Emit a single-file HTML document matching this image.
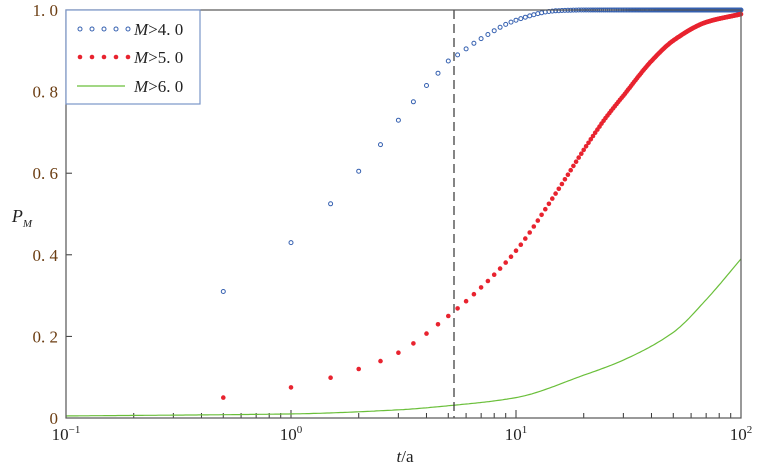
<!DOCTYPE html><html><head><style>body{margin:0;background:#fff}svg text{font-family:"Liberation Serif",serif}</style></head><body>
<svg id="s" width="760" height="465" xmlns="http://www.w3.org/2000/svg"></svg>
<script>
const s=document.getElementById('s');let h='';
const X=t=>66+225*(Math.log10(t)+1), Y=p=>418-408*p;
function itp(d,t){const xs=d.map(p=>Math.log10(p[0])),ys=d.map(p=>p[1]),n=d.length,l=Math.log10(t);
 const del=[];for(let i=0;i<n-1;i++)del.push((ys[i+1]-ys[i])/(xs[i+1]-xs[i]));
 const m=[del[0]];for(let i=1;i<n-1;i++){m.push(del[i-1]*del[i]<=0?0:2/(1/del[i-1]+1/del[i]));}m.push(del[n-2]);
 for(let i=0;i<n-1;i++){if(l<=xs[i+1]||i==n-2){const hh=xs[i+1]-xs[i],u=(l-xs[i])/hh;
  const h00=2*u*u*u-3*u*u+1,h10=u*u*u-2*u*u+u,h01=-2*u*u*u+3*u*u,h11=u*u*u-u*u;
  return h00*ys[i]+h10*hh*m[i]+h01*ys[i+1]+h11*hh*m[i+1];}}}
const B=[[0.5,.31],[1,.43],[1.5,.525],[2,.605],[2.5,.67],[3,.73],[3.5,.775],[4,.815],[4.5,.845],[5,.875],[5.5,.89],[7,.93],[10,.975],[15,.998],[20,1],[100,1]];
const R=[[0.5,.05],[1,.075],[2,.12],[3,.16],[5,.25],[7,.32],[10,.41],[15,.55],[20,.657],[25,.735],[30,.79],[40,.875],[50,.925],[70,.97],[100,.99]];
const G=[[0.1,.005],[1,.01],[3,.02],[5,.03],[10,.05],[20,.105],[30,.142],[50,.21],[70,.29],[100,.39]];
const tc='#6b3d12';
for(let d=-1;d<2;d++)for(let k=2;k<10;k++){const x=X(k*Math.pow(10,d));h+=`<line x1="${x}" y1="418" x2="${x}" y2="413" stroke="#333"/>`;}
for(let d=0;d<2;d++){const x=X(Math.pow(10,d));h+=`<line x1="${x}" y1="418" x2="${x}" y2="410" stroke="#333"/>`;}
[0,.2,.4,.6,.8,1].forEach((p,i)=>{h+=`<line x1="66" y1="${Y(p)}" x2="72" y2="${Y(p)}" stroke="#333"/><text x="58" y="${Y(p)+6}" font-size="17" fill="${tc}" text-anchor="end">${['0','0. 2','0. 4','0. 6','0. 8','1. 0'][i]}</text>`;});
[['10','−1',66],['10','0',291],['10','1',516],['10','2',741]].forEach(a=>{h+=`<text x="${a[2]}" y="440" font-size="17" fill="#222" text-anchor="middle">${a[0]}<tspan dy="-7" font-size="11">${a[1]}</tspan></text>`;});
h+=`<text x="405" y="462" font-size="17" fill="#222" text-anchor="middle"><tspan font-style="italic">t</tspan>/a</text>`;
h+=`<text x="22" y="222" font-size="18" fill="#222" font-style="italic" text-anchor="middle">P<tspan dy="5" font-size="11">M</tspan></text>`;
let pts=[];for(let i=0;i<=300;i++){const t=Math.pow(10,-1+3*i/300);pts.push(X(t).toFixed(1)+','+Y(itp(G,t)).toFixed(1));}
h+=`<polyline points="${pts.join(' ')}" fill="none" stroke="#6abf3a" stroke-width="1.2"/>`;
for(let t=0.5;t<=100.01;t+=0.5){h+=`<circle cx="${X(t).toFixed(1)}" cy="${Y(Math.min(1,itp(B,t))).toFixed(1)}" r="2" fill="none" stroke="#3560b0" stroke-width="1"/>`;}
for(let t=0.5;t<=100.01;t+=0.5){h+=`<circle cx="${X(t).toFixed(1)}" cy="${Y(itp(R,t)).toFixed(1)}" r="2.3" fill="#e8232f"/>`;}
h+=`<line x1="454" y1="10" x2="454" y2="418" stroke="#333" stroke-dasharray="9,5" stroke-width="1.2"/>`;
h+=`<rect x="66" y="10" width="675" height="408" fill="none" stroke="#555" stroke-width="1.2"/>`;
h+=`<rect x="66" y="10" width="134" height="94" fill="#fff" stroke="#7a95c8" stroke-width="1.2"/>`;
for(let i=0;i<5;i++){const x=80+i*12;h+=`<circle cx="${x}" cy="29" r="2" fill="none" stroke="#3560b0"/><circle cx="${x}" cy="57" r="2.3" fill="#e8232f"/>`;}
h+=`<line x1="77" y1="86" x2="125" y2="86" stroke="#6abf3a" stroke-width="1.2"/>`;
[['4',35],['5',63],['6',92]].forEach(a=>{h+=`<text x="134" y="${a[1]}" font-size="17" fill="#222"><tspan font-style="italic">M</tspan>&gt;${a[0]}. 0</text>`;});
s.innerHTML=h;
</script></body></html>
